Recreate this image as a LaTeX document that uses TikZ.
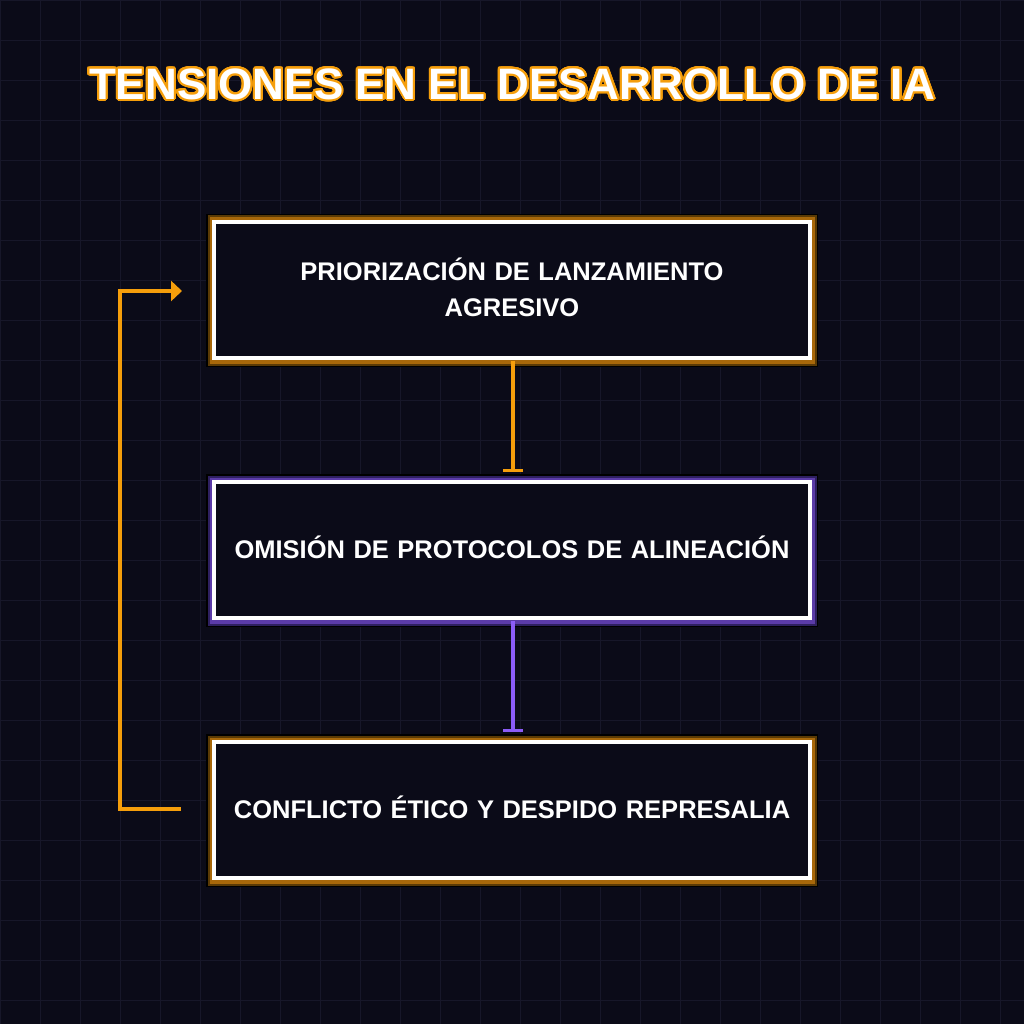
\documentclass[tikz,border=0pt]{standalone}
\usepackage{fontspec}
\setmainfont{Liberation Sans}
\usepackage{contour}
\contourlength{2pt}
\contournumber{32}
\usetikzlibrary{arrows.meta}
\definecolor{bg}{HTML}{0B0B18}
\definecolor{gridc}{HTML}{171729}
\definecolor{org}{HTML}{F59E0B}
\definecolor{orgd}{HTML}{A8680A}
\definecolor{orgdd}{HTML}{5A3A05}
\definecolor{pur}{HTML}{8B5CF6}
\definecolor{purd}{HTML}{5B3BA8}
\definecolor{purdd}{HTML}{2E2060}
\tikzset{
  boxtxt/.style={font=\bfseries\fontsize{25.5}{36}\selectfont, text=white, align=center, text width=590pt},
}
\begin{document}
\begin{tikzpicture}[x=1pt,y=-1pt]
\fill[bg] (0,0) rectangle (1024,1024);
\useasboundingbox (0,0) rectangle (1024,1024);
\foreach \i in {0,40,...,1000}{
  \draw[gridc, line width=0.8pt] (\i,0) -- (\i,1024);
  \draw[gridc, line width=0.8pt] (0,\i) -- (1024,\i);
}
\node (title) at (512,85) {\bfseries\fontsize{44}{50}\selectfont\contour{org}{\color{white}TENSIONES EN EL DESARROLLO DE IA}};
% box frames
\foreach \yt/\cA/\cB in {214/orgdd/orgd, 734/orgdd/orgd}{
  \fill[black] (206,\yt) rectangle (818,\yt+153);
  \fill[\cA] (207.5,\yt+1.5) rectangle (816.5,\yt+151.5);
  \fill[\cB] (209.5,\yt+3.5) rectangle (814.5,\yt+149.5);
  \fill[bg] (212,\yt+6) rectangle (812,\yt+146);
  \draw[white, line width=4pt] (214,\yt+8) rectangle (810,\yt+144);
}
\fill[black] (206,474) rectangle (818,627);
\fill[purdd] (207.5,475.5) rectangle (816.5,625.5);
\fill[purd] (209.5,477.5) rectangle (814.5,623.5);
\fill[bg] (212,480) rectangle (812,620);
\draw[white, line width=4pt] (214,482) rectangle (810,618);
\node[boxtxt] (b1) at (512,287) {PRIORIZACIÓN DE LANZAMIENTO\\AGRESIVO};
\node[boxtxt] (b2) at (512,547) {OMISIÓN DE PROTOCOLOS DE ALINEACIÓN};
\node[boxtxt] (b3) at (512,807) {CONFLICTO ÉTICO Y DESPIDO REPRESALIA};
\coordinate (b1s) at (513,361);
\coordinate (b2n) at (513,472);
\coordinate (b2s) at (513,621);
\coordinate (b3n) at (513,732);
\coordinate (b3w) at (181,809);
\coordinate (b1w) at (182,291);
\draw[org, line width=3.5pt, -{Bar[width=20pt,line width=3pt]}] (b1s) -- (b2n);
\draw[pur, line width=3.5pt, -{Bar[width=20pt,line width=3pt]}] (b2s) -- (b3n);
\draw[org, line width=4pt, -{Triangle[width=20pt,length=11pt]}] (b3w) -- (120,809) -- (120,291) -- (b1w);
\end{tikzpicture}
\end{document}
